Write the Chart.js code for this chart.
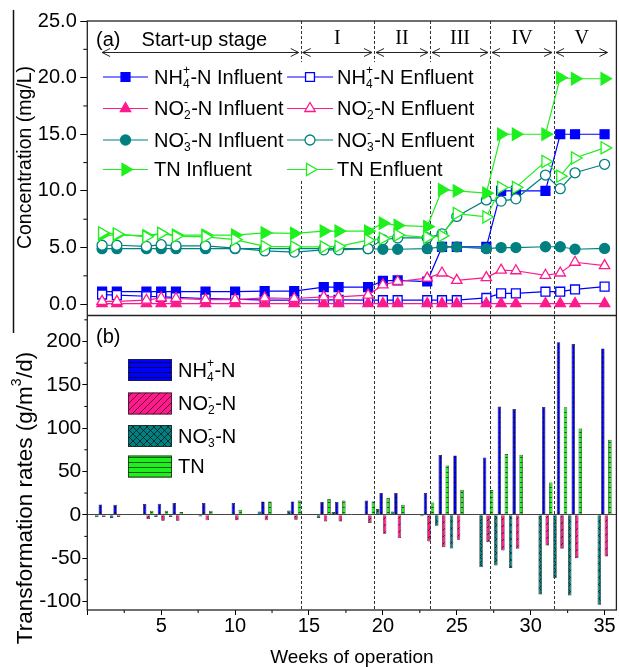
<!DOCTYPE html>
<html>
<head>
<meta charset="utf-8">
<script src="https://cdn.jsdelivr.net/npm/chart.js@4.4.0/dist/chart.umd.min.js"></script>
<style>
  html, body { margin: 0; padding: 0; background: #fff; }
  canvas { display: block; }
</style>
</head>
<body>
<canvas id="grafico" width="619" height="667"></canvas>
<script>
// Semanas de operación (eje x compartido por los dos paneles)
const weeks = [1, 2, 4, 5, 6, 8, 10, 12, 14, 16, 17, 19, 20, 21, 23, 24, 25, 27, 28, 29, 31, 32, 33, 35];

// (a) Concentraciones (mg/L)
const nh4Influent = [1.1, 1.1, 1.1, 1.1, 1.1, 1.1, 1.1, 1.15, 1.15, 1.5, 1.5, 1.5, 2.05, 2.1, 2.0, 5.05, 5.05, 5.05, 10.0, 10.0, 10.0, 15.0, 15.0, 15.0];
const nh4Effluent = [0.85, 0.8, 0.7, 0.65, 0.6, 0.5, 0.45, 0.35, 0.35, 0.38, 0.38, 0.35, 0.35, 0.35, 0.35, 0.35, 0.35, 0.55, 0.95, 0.95, 1.1, 1.1, 1.3, 1.55];
const no2Influent = [0.05, 0.05, 0.05, 0.05, 0.05, 0.05, 0.05, 0.05, 0.05, 0.05, 0.05, 0.05, 0.05, 0.05, 0.05, 0.05, 0.05, 0.05, 0.05, 0.05, 0.05, 0.05, 0.05, 0.05];
const no2Effluent = [0.25, 0.25, 0.35, 0.55, 0.5, 0.4, 0.4, 0.55, 0.5, 0.65, 0.65, 0.8, 1.7, 2.0, 2.3, 2.75, 2.1, 2.35, 3.0, 2.95, 2.55, 2.75, 3.7, 3.4];
const no3Influent = [4.9, 4.9, 4.9, 4.9, 4.9, 4.9, 4.9, 4.9, 4.9, 4.9, 4.9, 4.9, 4.85, 4.85, 4.9, 5.05, 5.05, 4.9, 5.0, 5.0, 5.07, 5.07, 4.85, 4.92];
const no3Effluent = [5.2, 5.2, 5.1, 5.25, 5.15, 5.15, 4.95, 4.7, 4.6, 4.8, 4.8, 4.9, 5.7, 5.85, 5.85, 6.2, 7.75, 9.2, 9.1, 9.3, 11.4, 10.2, 11.6, 12.35];
const tnInfluent = [6.1, 6.1, 6.05, 6.25, 6.1, 6.1, 6.1, 6.3, 6.25, 6.45, 6.45, 6.45, 7.15, 6.95, 6.85, 10.1, 10.0, 9.8, 15.0, 15.0, 15.0, 20.0, 19.9, 19.9];
const tnEffluent = [6.3, 6.2, 5.95, 6.25, 6.0, 5.95, 5.7, 5.1, 5.05, 5.05, 5.1, 5.65, 5.8, 6.1, 5.9, 6.05, 8.0, 7.7, 10.3, 10.3, 12.6, 11.3, 12.9, 13.8];

// (b) Velocidades de transformación (g/m3/d)
const nh4Rate = [11.9, 11.5, 12.3, 12.7, 13.5, 13.5, 13.5, 15.4, 15.4, 14.6, 14.6, 16.5, 25, 25, 25, 69, 68.5, 66, 125, 122, 124.5, 199, 197, 192];
const no2Rate = [-2.7, -2.7, -5, -6.9, -6.9, -6.5, -6.5, -6.5, -5.8, -7.7, -7.7, -9.6, -21.9, -27, -30.8, -37.5, -28.8, -31.7, -41.2, -39.4, -35.5, -39.4, -50.2, -48.1];
const no3Rate = [-3, -3.8, -0.5, -2.7, -2.7, -2, 0, 3.8, 4.8, -3.8, 3, 0, 6.5, 3.8, -1.9, -12.7, -39, -60.6, -58.6, -61.5, -92, -73.4, -93.3, -103.8];
const tnRate = [0, 0, 4.6, 4.6, 3.1, 4.6, 5.8, 15.4, 16.5, 18.2, 16.5, 15.4, 19.2, 11.5, 14.2, 56.9, 28.8, 28.6, 70, 69.2, 37.3, 124.2, 99.6, 86.5];

// Etapas del proceso (límites en semanas)
const stageNames = ['Start-up stage', 'I', 'II', 'III', 'IV', 'V'];
const stageEdges = [1, 14.44, 19.4, 23.19, 27.25, 31.58, 35.2];

// Marcas de los ejes (las que no llevan etiqueta son secundarias)
const xTicks = [0, 2.5, 5, 7.5, 10, 12.5, 15, 17.5, 20, 22.5, 25, 27.5, 30, 32.5, 35];
const concTicks = [0, 2.5, 5, 7.5, 10, 12.5, 15, 17.5, 20, 22.5, 25];
const rateTicks = [-100, -75, -50, -25, 0, 25, 50, 75, 100, 125, 150, 175, 200, 225];

const FAMILIA = '"Liberation Sans", Arial, sans-serif';
const AZUL = '#0000ff', ROSA = '#ff1a8c', TEAL = '#008080', VERDE = '#1ef01e';

Chart.defaults.font.family = FAMILIA;
Chart.defaults.font.size = 20;
Chart.defaults.color = '#000';

// Patrones de relleno para las barras
function crearPatron(color, tipo) {
  const c = document.createElement('canvas');
  const lado = tipo === 'horizontal' ? 5 : 7;
  c.width = tipo === 'horizontal' ? 6 : lado; c.height = lado;
  const g = c.getContext('2d');
  g.fillStyle = color; g.fillRect(0, 0, c.width, c.height);
  g.strokeStyle = 'rgba(0,0,0,0.8)'; g.lineWidth = 0.8;
  g.beginPath();
  if (tipo === 'horizontal') { g.moveTo(0, 2.5); g.lineTo(c.width, 2.5); }
  else {
    [-lado, 0, lado].forEach(k => {
      g.moveTo(k, lado); g.lineTo(k + lado, 0);
      if (tipo === 'cruzado') { g.moveTo(k, 0); g.lineTo(k + lado, lado); }
    });
  }
  g.stroke();
  return g.createPattern(c, 'repeat');
}

// Texto con subíndices (_x) y superíndices (^x)
function textoRico(ctx, texto, x, y, tam, alinear) {
  const partes = [];
  for (let i = 0; i < texto.length; i++) {
    const c = texto[i];
    if (c === '_' || c === '^') {
      const tipo = c === '_' ? 'sub' : 'sup';
      const car = texto[++i];
      const ult = partes[partes.length - 1];
      if (ult && ult.esc && !ult[tipo]) ult[tipo] = car;
      else partes.push({ esc: true, [tipo]: car });
    } else {
      const ult = partes[partes.length - 1];
      if (ult && !ult.esc) ult.t += c; else partes.push({ esc: false, t: c });
    }
  }
  const fuente = `${tam}px ${FAMILIA}`, chica = `${Math.round(tam * 0.62)}px ${FAMILIA}`;
  const ancho = (p) => {
    if (!p.esc) { ctx.font = fuente; return ctx.measureText(p.t).width; }
    ctx.font = chica;
    return Math.max(p.sub ? ctx.measureText(p.sub).width : 0, p.sup ? ctx.measureText(p.sup).width : 0) + 0.5;
  };
  const total = partes.reduce((a, p) => a + ancho(p), 0);
  let cx = alinear === 'center' ? x - total / 2 : x;
  ctx.textBaseline = 'middle'; ctx.textAlign = 'left';
  partes.forEach(p => {
    const w = ancho(p);
    if (!p.esc) { ctx.font = fuente; ctx.fillText(p.t, cx, y); }
    else {
      ctx.font = chica;
      if (p.sub) ctx.fillText(p.sub, cx, y + tam * 0.32);
      if (p.sup) ctx.fillText(p.sup, cx, y - tam * 0.36);
    }
    cx += w;
  });
}

const radios = { rect: 6.3, triangle: 6, circle: 5, derecha: 7 };
const serie = (label, valores, color, estilo, relleno, orden) => ({
  type: 'line', label, yAxisID: 'yTop', order: orden,
  data: weeks.map((w, i) => ({ x: w, y: valores[i] })),
  borderColor: color, borderWidth: 1.2, tension: 0,
  pointStyle: estilo === 'derecha' ? 'triangle' : estilo,
  pointRotation: estilo === 'derecha' ? 90 : 0,
  pointRadius: radios[estilo],
  pointBackgroundColor: relleno ? color : '#fff',
  pointBorderColor: color, pointBorderWidth: 1.3,
});
const barra = (label, valores, patron, orden) => ({
  type: 'bar', label, yAxisID: 'yBot', order: orden,
  data: weeks.map((w, i) => ({ x: w, y: valores[i] })),
  backgroundColor: patron, borderColor: '#222', borderWidth: 0.7,
  categoryPercentage: 0.95, barPercentage: 1,
});

const datasets = [
  serie('NH_4^+-N Influent', nh4Influent, AZUL, 'rect', true, 7),
  serie('NH_4^+-N Enfluent', nh4Effluent, AZUL, 'rect', false, 6),
  serie('NO_2^--N Influent', no2Influent, ROSA, 'triangle', true, 5),
  serie('NO_2^--N Enfluent', no2Effluent, ROSA, 'triangle', false, 4),
  serie('NO_3^--N Influent', no3Influent, TEAL, 'circle', true, 3),
  serie('NO_3^--N Enfluent', no3Effluent, TEAL, 'circle', false, 2),
  serie('TN Influent', tnInfluent, VERDE, 'derecha', true, 1),
  serie('TN Enfluent', tnEffluent, VERDE, 'derecha', false, 0),
  // el orden 10..13 coloca NO3, NH4, NO2, TN dentro de cada grupo
  barra('NH_4^+-N', nh4Rate, crearPatron(AZUL, 'horizontal'), 11),
  barra('NO_2^--N', no2Rate, crearPatron(ROSA, 'diagonal'), 12),
  barra('NO_3^--N', no3Rate, crearPatron(TEAL, 'cruzado'), 10),
  barra('TN', tnRate, crearPatron(VERDE, 'horizontal'), 13),
];

// Marcas principales: las secundarias se dibujan más cortas aparte
const esPrincipal = { x: v => v % 5 === 0, yTop: v => v % 5 === 0, yBot: v => v % 50 === 0 };
const colorMarca = (id) => (c) => (c.tick && esPrincipal[id](c.tick.value) ? '#000' : 'rgba(0,0,0,0)');

// Líneas discontinuas entre etapas
const separadores = {
  id: 'separadores',
  beforeDatasetsDraw(chart) {
    const { ctx, chartArea, scales: { x } } = chart;
    ctx.save();
    ctx.strokeStyle = '#333'; ctx.lineWidth = 1; ctx.setLineDash([3, 2]);
    stageEdges.slice(1, -1).forEach(e => {
      const px = Math.round(x.getPixelForValue(e)) + 0.5;
      ctx.beginPath(); ctx.moveTo(px, chartArea.top); ctx.lineTo(px, chartArea.bottom); ctx.stroke();
    });
    ctx.restore();
  }
};

// Leyendas, anotaciones, marco y títulos de ejes
const decoracion = {
  id: 'decoracion',
  afterDatasetsDraw(chart) {
    const { ctx } = chart;
    const ds = chart.data.datasets;
    ctx.save();
    // leyenda del panel (a)
    ctx.fillStyle = '#fff';
    ctx.fillRect(99, 62, 380, 117);
    const filas = [77, 108.5, 140, 169.5];
    const cols = [{ x0: 103, x1: 148, tx: 154 }, { x0: 287, x1: 333, tx: 337 }];
    ds.slice(0, 8).forEach((d, i) => {
      const col = cols[i % 2], y = filas[Math.floor(i / 2)];
      ctx.strokeStyle = d.borderColor; ctx.lineWidth = d.borderWidth;
      ctx.beginPath(); ctx.moveTo(col.x0, y); ctx.lineTo(col.x1, y); ctx.stroke();
      ctx.fillStyle = d.pointBackgroundColor; ctx.strokeStyle = d.pointBorderColor; ctx.lineWidth = d.pointBorderWidth;
      Chart.helpers.drawPoint(ctx, { pointStyle: d.pointStyle, rotation: d.pointRotation, radius: d.pointRadius, borderWidth: d.pointBorderWidth }, (col.x0 + col.x1) / 2, y);
      ctx.fillStyle = '#000';
      textoRico(ctx, d.label, col.tx, y + 1, 20);
    });
    // leyenda del panel (b)
    const filasB = [370, 403.5, 436, 466.5];
    ds.slice(8).forEach((d, i) => {
      const y = filasB[i];
      ctx.fillStyle = d.backgroundColor; ctx.fillRect(128, y - 11, 44, 22);
      ctx.strokeStyle = '#222'; ctx.lineWidth = 0.8; ctx.strokeRect(128.5, y - 10.5, 43, 21);
      ctx.fillStyle = '#000';
      textoRico(ctx, d.label, 178, y + 1, 20);
    });
    ctx.restore();
  },
  afterDraw(chart) {
    const { ctx, chartArea, scales: { x, yTop, yBot } } = chart;
    ctx.save();
    // marcas secundarias (cortas)
    ctx.strokeStyle = '#000'; ctx.lineWidth = 1;
    ctx.beginPath();
    xTicks.filter(v => !esPrincipal.x(v)).forEach(v => {
      const px = x.getPixelForValue(v); ctx.moveTo(px, chartArea.bottom); ctx.lineTo(px, chartArea.bottom + 3);
    });
    concTicks.filter(v => !esPrincipal.yTop(v)).forEach(v => {
      const py = yTop.getPixelForValue(v); ctx.moveTo(chartArea.left, py); ctx.lineTo(chartArea.left - 4, py);
    });
    rateTicks.filter(v => !esPrincipal.yBot(v)).forEach(v => {
      const py = yBot.getPixelForValue(v); ctx.moveTo(chartArea.left, py); ctx.lineTo(chartArea.left - 3, py);
    });
    ctx.stroke();
    // marco de los dos paneles
    ctx.strokeStyle = '#222'; ctx.lineWidth = 1.3;
    ctx.strokeRect(chartArea.left, chartArea.top, chartArea.right - chartArea.left, chartArea.bottom - chartArea.top);
    ctx.lineWidth = 1.6;
    ctx.beginPath(); ctx.moveTo(chartArea.left, yTop.bottom); ctx.lineTo(chartArea.right, yTop.bottom); ctx.stroke();
    // línea del borde izquierdo de la figura
    ctx.lineWidth = 1.5; ctx.strokeStyle = '#111';
    ctx.beginPath(); ctx.moveTo(13.5, 10); ctx.lineTo(13.5, 333); ctx.stroke();
    // etiquetas (a) y (b)
    ctx.fillStyle = '#000';
    textoRico(ctx, '(a)', 96, 40, 20);
    textoRico(ctx, '(b)', 96, 337.5, 20);
    // etapas con flechas dobles
    ctx.strokeStyle = '#222'; ctx.lineWidth = 1;
    const yf = 52.5;
    stageNames.forEach((nombre, k) => {
      const xa = x.getPixelForValue(stageEdges[k]) + (k ? 2 : 0);
      const xb = x.getPixelForValue(stageEdges[k + 1]) - (k < stageNames.length - 1 ? 2 : 0);
      ctx.beginPath();
      ctx.moveTo(xa, yf); ctx.lineTo(xb, yf);
      ctx.moveTo(xa + 8, yf - 4); ctx.lineTo(xa, yf); ctx.lineTo(xa + 8, yf + 4);
      ctx.moveTo(xb - 8, yf - 4); ctx.lineTo(xb, yf); ctx.lineTo(xb - 8, yf + 4);
      ctx.stroke();
      if (k === 0) {
        textoRico(ctx, nombre, (xa + xb) / 2 + 4, 40, 20, 'center');
      } else {
        ctx.font = '20px "Liberation Serif", "DejaVu Serif", serif';
        ctx.textAlign = 'center'; ctx.textBaseline = 'middle';
        ctx.fillText(nombre, (xa + xb) / 2, 38.5);
      }
    });
    // títulos de los ejes y
    const titulo = (txt, cx, cy, tam) => {
      ctx.save(); ctx.translate(cx, cy); ctx.rotate(-Math.PI / 2);
      textoRico(ctx, txt, 0, 0, tam, 'center'); ctx.restore();
    };
    titulo('Concentration (mg/L)', 25.5, 157.5, 19.5);
    titulo('Transformation rates (g/m^3/d)', 25.5, 498, 22.5);
    ctx.restore();
  }
};

new Chart(document.getElementById('grafico'), {
  type: 'line',
  data: { datasets },
  options: {
    responsive: false, animation: false, devicePixelRatio: 1, events: [],
    layout: { autoPadding: false, padding: { top: 21, right: 2.6, left: 0, bottom: 0 } },
    plugins: { legend: { display: false }, tooltip: { enabled: false } },
    scales: {
      x: {
        type: 'linear', position: 'bottom', min: 0, max: 35.8, bounds: 'data', offset: false,
        afterBuildTicks: (s) => { s.ticks = xTicks.map(v => ({ value: v })); },
        afterFit: (s) => { s.height = 57; },
        ticks: { callback: (v) => (v > 0 && v % 5 === 0 ? String(v) : ''), maxRotation: 0, autoSkip: false, padding: -1 },
        grid: { drawOnChartArea: false, offset: false, tickLength: 5, tickColor: colorMarca('x') },
        border: { display: false },
        title: { display: true, text: 'Weeks of operation', font: { size: 19, lineHeight: 1 }, padding: 0 },
      },
      yBot: {
        type: 'linear', position: 'left', stack: 'paneles', stackWeight: 1, min: -110, max: 230, bounds: 'data',
        afterBuildTicks: (s) => { s.ticks = rateTicks.map(v => ({ value: v })); },
        afterFit: (s) => { s.width = 87.3; },
        ticks: { callback: (v) => (v % 50 === 0 ? String(v) : ''), padding: 1, autoSkip: false, font: { size: 21 } },
        grid: { color: (c) => (c.tick && c.tick.value === 0 ? '#444' : 'rgba(0,0,0,0)'), tickColor: colorMarca('yBot'), tickLength: 5 },
        border: { display: false },
      },
      yTop: {
        type: 'linear', position: 'left', stack: 'paneles', stackWeight: 1, min: -1, max: 25, bounds: 'data',
        afterBuildTicks: (s) => { s.ticks = concTicks.map(v => ({ value: v })); },
        afterFit: (s) => { s.width = 87.3; },
        ticks: { callback: (v) => (v % 5 === 0 ? v.toFixed(1) : ''), padding: 3.5, autoSkip: false },
        grid: { drawOnChartArea: false, tickColor: colorMarca('yTop'), tickLength: 7 },
        border: { display: false },
      },
    },
  },
  plugins: [separadores, decoracion],
});
</script>
</body>
</html>
